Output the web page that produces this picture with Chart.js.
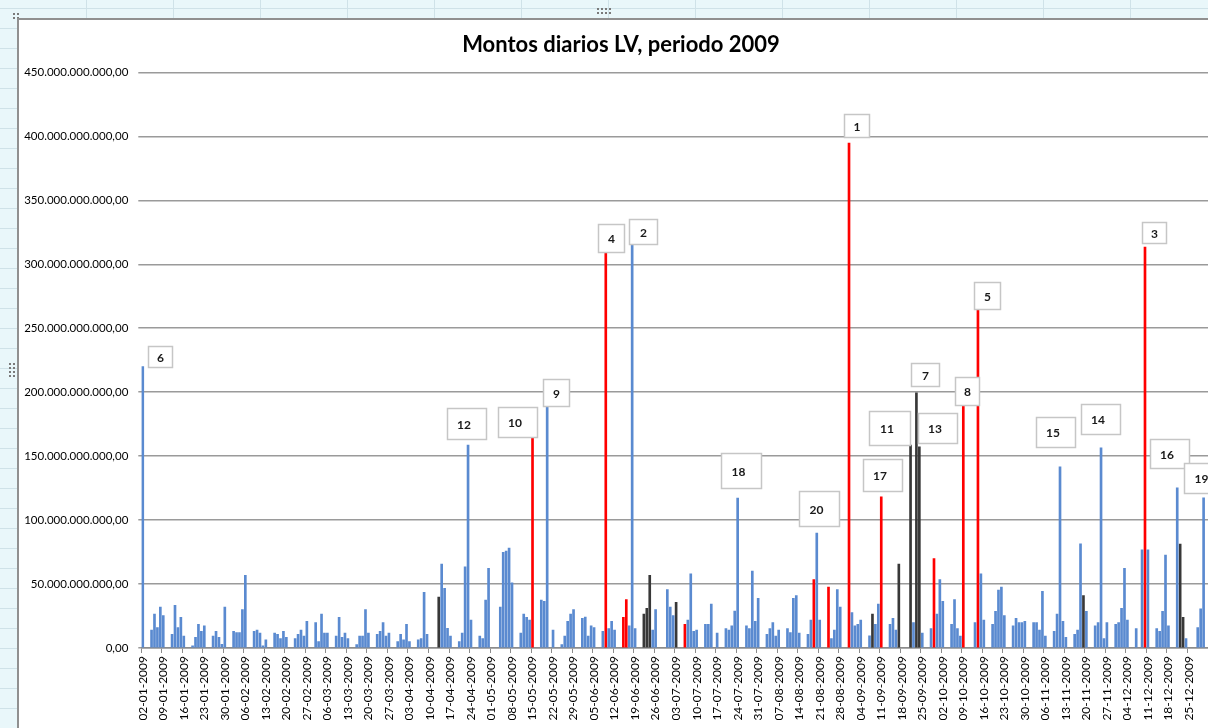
<!DOCTYPE html>
<html>
<head>
<meta charset="utf-8">
<title>Montos diarios LV 2009</title>
<script src="https://cdn.jsdelivr.net/npm/chart.js@4.4.1/dist/chart.umd.min.js"></script>
<style>
  body {
    margin: 0;
    width: 1208px;
    height: 728px;
    overflow: hidden;
    background-color: #e9f7fa;
    background-image:
      repeating-linear-gradient(90deg, transparent 0 86px, #cfe2e8 86px 87px),
      repeating-linear-gradient(0deg, transparent 0 19px, #cfe2e8 19px 20px);
  }
  #frame {
    position: absolute;
    left: 17px;
    top: 18px;
    width: 1191px;
    height: 710px;
    overflow: hidden;
    background: #fff;
    border-left: 2px solid #909090;
    border-top: 2px solid #909090;
    box-sizing: border-box;
  }
  #frame canvas { display: block; }
  .handle {
    position: absolute;
    background-image: radial-gradient(circle, #7a7a7a 0.9px, transparent 1.2px);
    background-size: 4px 4px;
  }
</style>
</head>
<body>
<div class="handle" style="left:596px;top:7px;width:16px;height:8px"></div>
<div class="handle" style="left:8px;top:362px;width:8px;height:16px"></div>
<div class="handle" style="left:12px;top:12px;width:8px;height:8px"></div>
<div id="frame">
  <canvas id="myChart" width="1204" height="708"></canvas>
</div>
<script>
// Montos diarios (miles de millones), una fila por semana: lunes..viernes.
// Primera fila = semana del 29-12-2008, última = semana del 28-12-2009.
const blueWeeks = [
  [null, null, null, null, 220],
  [14, 26.6, 16, 32, 25.3],
  [10.7, 33.3, 16, 24, 9.4],
  [1.6, 8.3, 18.5, 13, 17.4],
  [9.4, 13, 8.3, 2.9, 32],
  [13, 12, 12, 30, 56.8],
  [13, 14, 11.7, 1.6, 6.3],
  [11.7, 10.7, 7.3, 13, 8.3],
  [7.3, 10.7, 14, 9.4, 20.8],
  [19.8, 5, 26.6, 11.7, 11.7],
  [9.4, 24, 8.3, 11.7, 7.3],
  [2.6, 9.4, 9.4, 30, 11.7],
  [10.7, 13, 19.8, 9.4, 11.7],
  [5, 10.7, 6.3, 18.5, 5],
  [6.3, 7.3, 43.5, 10.7, null],
  [null, 65.6, 46.6, 15.4, 9.4],
  [5, 11.7, 63.5, 158.6, 21.9],
  [9.4, 7.3, 37.5, 62.2, null],
  [32, 74.7, 75.8, 78.1, 51],
  [11.7, 26.6, 24, 21.9, null],
  [37.5, 36.5, 188.5, null, 14],
  [2.6, 9.4, 20.8, 26.6, 30],
  [23.2, 24.2, 9.4, 17.4, 16],
  [13, null, 15.1, 20.8, 14],
  [null, null, 17.4, 314.8, 15.1],
  [null, null, null, 14, 30],
  [null, 45.6, 32, 25.3, null],
  [null, 21.9, 58, 13, 14],
  [18.5, 18.5, 34.4, null, 11.7],
  [15.1, 14, 17.4, 28.9, 117.2],
  [17.4, 15.1, 60.2, 20.8, 38.8],
  [10.7, 15.1, 19.8, 9.4, 14],
  [15.1, 12, 38.8, 40.9, 11.7],
  [10.7, 21.9, null, 89.8, 21.9],
  [null, 7.3, 14, 45.6, 32],
  [null, 27.6, 17.4, 18.5, 21.9],
  [9.6, null, 18.5, 34.4, null],
  [18.5, 23.2, 14, null, null],
  [null, 19.8, null, null, 11.7],
  [15.1, null, 26.6, 53.4, 36.5],
  [18.5, 37.8, 15.1, 9.4, null],
  [null, 19.8, null, 58, 21.9],
  [18.5, 28.6, 45.3, 47.7, 25.3],
  [17.4, 23.2, 19.8, 19.8, 20.8],
  [19.8, 19.8, 14, 44.3, 9.4],
  [13, 26.6, 141.7, 20.8, 8.3],
  [10.7, 14, 81.5, null, 28.6],
  [17.4, 19.8, 156.5, 7.3, 19.8],
  [18.5, 19.8, 31, 62.2, 21.9],
  [15.1, null, 76.8, null, 76.8],
  [15.1, 13, 28.6, 72.7, 17.4],
  [125.3, null, null, 7.3, null],
  [16, 30.7, 117.4, null, null]
];

// días marcados en rojo
const redDates = ['15-05-2009', '09-06-2009', '15-06-2009', '16-06-2009', '06-07-2009',
  '19-08-2009', '24-08-2009', '31-08-2009', '11-09-2009', '29-09-2009',
  '09-10-2009', '14-10-2009', '10-12-2009'];
const redAmounts = [164.8, 309.4, 24, 37.8, 18.5, 53.4, 47.7, 394.8, 118.2, 70, 189.8, 264.6, 313.5];

// días marcados en negro
const blackDates = ['13-04-2009', '22-06-2009', '23-06-2009', '24-06-2009', '03-07-2009',
  '08-09-2009', '17-09-2009', '21-09-2009', '23-09-2009', '24-09-2009',
  '19-11-2009', '22-12-2009', '23-12-2009'];
const blackAmounts = [39.8, 26.6, 31, 56.8, 35.7, 26.6, 65.6, 158.6, 199.5, 157.3, 40.9, 81.3, 24];

// ranking de los montos mayores
const rankLabels = ['1', '2', '3', '4', '5', '6', '7', '8', '9', '10',
  '11', '12', '13', '14', '15', '16', '17', '18', '19', '20'];
const rankDates = ['31-08-2009', '18-06-2009', '10-12-2009', '09-06-2009', '14-10-2009',
  '02-01-2009', '23-09-2009', '09-10-2009', '20-05-2009', '15-05-2009',
  '21-09-2009', '23-04-2009', '24-09-2009', '25-11-2009', '11-11-2009',
  '21-12-2009', '11-09-2009', '24-07-2009', '30-12-2009', '20-08-2009'];

// caja de cada etiqueta: desplazamiento x, y del centro respecto al tope de la barra, ancho, alto
const calloutBoxes = [
  [7, -18, 25, 23], [11, -14, 28, 25], [9, -14, 24, 21], [5, -14, 26, 28], [9, -14, 26, 27],
  [17, -10, 24, 21], [9, -18, 28, 23], [4, -14, 24, 28], [9, -14, 26, 27], [-15, -15, 39, 30],
  [-21, -17, 41, 34], [-2, -22, 39, 31], [18, -19, 39, 30], [-1, -29, 39, 30], [-5, -35, 39, 30],
  [-8, -34, 39, 29], [1, -22, 39, 32], [3, -28, 40, 35], [0, -20, 40, 30], [2, -25, 40, 35]
];

const BILLION = 1e9;

function pad2(n) {
  return (n < 10 ? '0' : '') + n;
}

// eje de días corridos 02-01-2009 .. 31-12-2009
const dayLabels = [];
const blueData = [];
const redData = [];
const blackData = [];
const weekStart = Date.UTC(2008, 11, 29);
for (let t = Date.UTC(2009, 0, 2); t <= Date.UTC(2009, 11, 31); t += 86400000) {
  const d = new Date(t);
  const label = pad2(d.getUTCDate()) + '-' + pad2(d.getUTCMonth() + 1) + '-' + d.getUTCFullYear();
  dayLabels.push(label);
  const wd = d.getUTCDay();
  let blue = null;
  if (wd >= 1 && wd <= 5) {
    const row = Math.floor((t - weekStart) / (7 * 86400000));
    blue = blueWeeks[row][wd - 1];
  }
  const r = redDates.indexOf(label);
  const k = blackDates.indexOf(label);
  blueData.push(blue == null ? null : blue * BILLION);
  redData.push(r < 0 ? null : redAmounts[r] * BILLION);
  blackData.push(k < 0 ? null : blackAmounts[k] * BILLION);
}

function pesos(v) {
  return Math.round(v).toString().replace(/\B(?=(\d{3})+(?!\d))/g, '.') + ',00';
}

// cajas numeradas sobre las barras
const calloutPlugin = {
  id: 'rankCallouts',
  afterDatasetsDraw(chart) {
    const ctx = chart.ctx;
    const xs = chart.scales.x;
    const ys = chart.scales.y;
    ctx.save();
    rankLabels.forEach(function(label, n) {
      const i = dayLabels.indexOf(rankDates[n]);
      let total = 0;
      chart.data.datasets.forEach(function(ds) { total += ds.data[i] || 0; });
      const box = calloutBoxes[n];
      const cx = xs.getPixelForValue(i) + box[0];
      const cy = ys.getPixelForValue(total) + box[1];
      const w = box[2], h = box[3];
      const left = Math.round(cx - w / 2) + 0.5;
      const top = Math.round(cy - h / 2) + 0.5;
      ctx.fillStyle = '#ffffff';
      ctx.fillRect(left, top, w, h);
      ctx.strokeStyle = '#c6c6c6';
      ctx.lineWidth = 1.5;
      ctx.strokeRect(left, top, w, h);
      ctx.fillStyle = '#1a1a1a';
      ctx.font = 'bold 12px Lato';
      ctx.textAlign = 'center';
      ctx.textBaseline = 'middle';
      ctx.fillText(label, left + (w > 30 ? w / 2 - 3 : w / 2), top + h / 2 + 1);
    });
    ctx.restore();
  }
};

var ctx = document.getElementById('myChart').getContext('2d');
var myChart = new Chart(ctx, {
  type: 'bar',
  data: {
    labels: dayLabels,
    datasets: [
      { label: 'Montos', data: blueData, backgroundColor: '#5a8ad0', barThickness: 2 },
      { label: 'Rojo', data: redData, backgroundColor: '#ff0000', barThickness: 2 },
      { label: 'Negro', data: blackData, backgroundColor: '#383838', barThickness: 2 }
    ]
  },
  options: {
    responsive: false,
    animation: false,
    layout: { padding: { left: 0, right: 0, top: 0, bottom: 8 } },
    plugins: {
      legend: { display: false },
      tooltip: { enabled: false },
      title: {
        display: true,
        text: 'Montos diarios LV, periodo 2009',
        color: '#000',
        font: { family: 'Lato', size: 22, weight: 'bold' },
        padding: { top: 12, bottom: 14 }
      }
    },
    scales: {
      x: {
        stacked: true,
        offset: true,
        grid: {
          offset: true,
          drawOnChartArea: false,
          tickLength: 5,
          color: function(c) { return c.index % 7 === 0 ? '#8c8c8c' : 'rgba(0,0,0,0)'; }
        },
        border: { color: '#8c8c8c', width: 1.5 },
        ticks: {
          autoSkip: false,
          minRotation: 90,
          maxRotation: 90,
          padding: 3,
          color: '#000',
          font: { family: 'Lato', size: 12 },
          callback: function(v, i) { return i % 7 === 0 ? dayLabels[i] : ''; }
        },
        // el lienzo sobresale 15px del marco: el área de datos termina en su borde
        afterFit: function(scale) {
          scale.paddingLeft = 0;
          scale.paddingRight = 15;
          scale.height = 72;
        }
      },
      y: {
        stacked: true,
        min: 0,
        max: 450 * BILLION,
        grid: { color: '#9a9a9a', lineWidth: 1.5, tickLength: 3 },
        border: { display: false },
        ticks: {
          stepSize: 50 * BILLION,
          padding: 10,
          color: '#000',
          font: { family: 'Lato', size: 11.5 },
          callback: function(v) { return pesos(v); }
        },
        afterFit: function(scale) {
          scale.width = 122.3;
        }
      }
    }
  },
  plugins: [calloutPlugin]
});
</script>
</body>
</html>
